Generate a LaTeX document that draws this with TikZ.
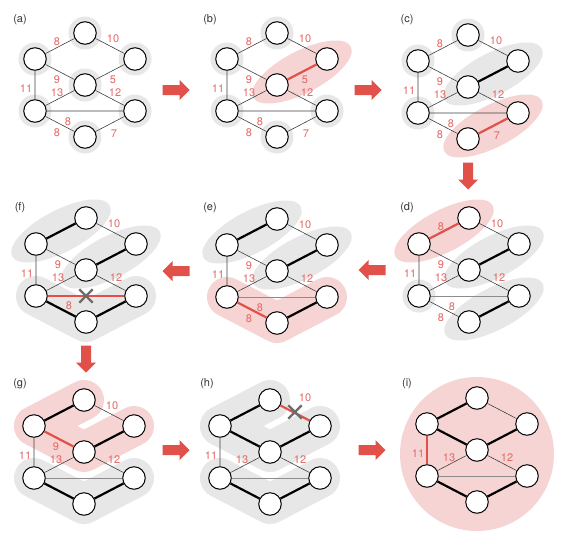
\documentclass[tikz,border=0pt]{standalone}
\usepackage{fontspec}
\setmainfont{TeX Gyre Heros}
\usetikzlibrary{shapes.misc}

\definecolor{kred}{RGB}{226,80,74}
\definecolor{klab}{RGB}{228,104,100}
\definecolor{kpink}{RGB}{246,212,212}
\definecolor{kgray}{RGB}{231,231,231}
\definecolor{kcross}{RGB}{108,108,108}

\tikzset{
  vtx/.style={circle, draw=black, line width=1pt, fill=white, minimum size=22.5pt, inner sep=0pt},
  halo/.style={fill=kgray},
  thinedge/.style={line width=0.6pt, draw=black!75},
  fadeedge/.style={line width=0.6pt, draw=black!45},
  treeedge/.style={line width=2.2pt, draw=black},
  newedge/.style={line width=2.2pt, draw=kred},
  wlab/.style={text=klab, font=\fontsize{11}{11}\selectfont, inner sep=0pt},
  tag/.style={text=black!80, font=\fontsize{11}{11}\selectfont, inner sep=0pt},
  graybl/.style={draw=kgray, line width=40pt, line cap=round, line join=round},
  pinkbl/.style={draw=kpink, line width=40pt, line cap=round, line join=round},
  xmark/.style={cross out, draw=kcross, line width=2.4pt, minimum size=11pt, inner sep=0pt},
}

% the seven vertices of one panel, top vertex at the scope origin
\newcommand{\kverts}[1]{%
  \node[vtx] (#1T)  at (0,0)    {};
  \node[vtx] (#1UL) at (-50,26) {};
  \node[vtx] (#1UR) at (50,26)  {};
  \node[vtx] (#1M)  at (0,52)   {};
  \node[vtx] (#1LL) at (-50,78) {};
  \node[vtx] (#1LR) at (50,78)  {};
  \node[vtx] (#1B)  at (0,104)  {};
}
% red block arrow between two panels
\newcommand{\steparrow}[2]{%
  \fill[kred, shift={(#1)}, rotate=#2] (-13.5,-5) -- (3.5,-5) -- (3.5,-10) -- (13.5,0)
    -- (3.5,10) -- (3.5,5) -- (-13.5,5) -- cycle;}

\begin{document}
\begin{tikzpicture}[x=1pt, y=-1pt]
  \fill[white] (0,0) rectangle (575,535);
  \useasboundingbox (0,0) rectangle (575,535);

  % (a)
  \begin{scope}[shift={(85,33)}]
    \fill[halo] (0,0) circle (16.5pt) (-50,26) circle (16.5pt) (50,26) circle (16.5pt)
      (0,52) circle (16.5pt) (-50,78) circle (16.5pt) (50,78) circle (16.5pt) (0,104) circle (16.5pt);
    \kverts{a}
    \draw[thinedge] (aT) -- (aUL) (aT) -- (aUR) (aUL) -- (aM) (aM) -- (aUR) (aUL) -- (aLL)
      (aLL) -- (aM) (aM) -- (aLR) (aLL) -- (aLR) (aLL) -- (aB) (aB) -- (aLR);
    \node[wlab] (a8t) at (-28,9) {8};
    \node[wlab] (a10) at (28,6) {10};
    \node[wlab] (a9) at (-28,47) {9};
    \node[wlab] (a5) at (28,47) {5};
    \node[wlab] (a11) at (-59,56) {11};
    \node[wlab] (a13) at (-28,60) {13};
    \node[wlab] (a12) at (30,60) {12};
    \node[wlab] (a8m) at (-17,89) {8};
    \node[wlab] (a8b) at (-28,100) {8};
    \node[wlab] (a7) at (29,101) {7};
  \end{scope}

  % (b)
  \begin{scope}[shift={(277,33)}]
    \fill[halo] (0,0) circle (16.5pt) (-50,26) circle (16.5pt)
      (-50,78) circle (16.5pt) (50,78) circle (16.5pt) (0,104) circle (16.5pt);
    \fill[kpink, rotate around={27.5:(25,39)}] (25,39) ellipse [x radius=55pt, y radius=21pt];
    \kverts{b}
    \draw[thinedge] (bT) -- (bUL) (bT) -- (bUR) (bUL) -- (bM) (bUL) -- (bLL)
      (bLL) -- (bM) (bM) -- (bLR) (bLL) -- (bLR) (bLL) -- (bB) (bB) -- (bLR);
    \draw[newedge] (bM) -- (bUR);
    \node[wlab] (b8t) at (-28,9) {8};
    \node[wlab] (b10) at (28,6) {10};
    \node[wlab] (b9) at (-28,47) {9};
    \node[wlab] (b5) at (28,47) {5};
    \node[wlab] (b11) at (-59,56) {11};
    \node[wlab] (b13) at (-28,60) {13};
    \node[wlab] (b12) at (30,60) {12};
    \node[wlab] (b8m) at (-17,89) {8};
    \node[wlab] (b8b) at (-28,100) {8};
    \node[wlab] (b7) at (29,101) {7};
  \end{scope}

  % (c)
  \begin{scope}[shift={(468,35)}]
    \fill[halo] (0,0) circle (16.5pt) (-50,26) circle (16.5pt) (-50,78) circle (16.5pt);
    \fill[kgray, rotate around={27.5:(25,39)}] (25,39) ellipse [x radius=55pt, y radius=21pt];
    \fill[kpink, rotate around={27.5:(25,91)}] (25,91) ellipse [x radius=55pt, y radius=21pt];
    \kverts{c}
    \draw[thinedge] (cT) -- (cUL) (cT) -- (cUR) (cUL) -- (cM) (cUL) -- (cLL)
      (cLL) -- (cM) (cM) -- (cLR) (cLL) -- (cLR) (cLL) -- (cB);
    \draw[treeedge] (cM) -- (cUR);
    \draw[newedge] (cB) -- (cLR);
    \node[wlab] (c8t) at (-28,9) {8};
    \node[wlab] (c10) at (28,6) {10};
    \node[wlab] (c9) at (-28,47) {9};
    \node[wlab] (c11) at (-59,56) {11};
    \node[wlab] (c13) at (-28,60) {13};
    \node[wlab] (c12) at (30,60) {12};
    \node[wlab] (c8m) at (-17,89) {8};
    \node[wlab] (c8b) at (-28,100) {8};
    \node[wlab] (c7) at (29,101) {7};
  \end{scope}

  % (d)
  \begin{scope}[shift={(469,218)}]
    \fill[halo] (-50,78) circle (16.5pt);
    \fill[kgray, rotate around={27.5:(25,39)}] (25,39) ellipse [x radius=55pt, y radius=21pt];
    \fill[kgray, rotate around={27.5:(25,91)}] (25,91) ellipse [x radius=55pt, y radius=21pt];
    \fill[kpink, rotate around={27.5:(-25,13)}] (-25,13) ellipse [x radius=55pt, y radius=21pt];
    \kverts{d}
    \draw[thinedge] (dT) -- (dUR) (dUL) -- (dM) (dUL) -- (dLL)
      (dLL) -- (dM) (dM) -- (dLR) (dLL) -- (dB);
    \draw[fadeedge] (dLL) -- (dLR);
    \draw[treeedge] (dM) -- (dUR) (dB) -- (dLR);
    \draw[newedge] (dUL) -- (dT);
    \node[wlab] (d8t) at (-28,9) {8};
    \node[wlab] (d10) at (28,6) {10};
    \node[wlab] (d9) at (-28,47) {9};
    \node[wlab] (d11) at (-59,56) {11};
    \node[wlab] (d13) at (-28,60) {13};
    \node[wlab] (d12) at (30,60) {12};
    \node[wlab] (d8m) at (-17,89) {8};
    \node[wlab] (d8b) at (-28,100) {8};
  \end{scope}

  % (e)
  \begin{scope}[shift={(277,219)}]
    \fill[kgray, rotate around={27.5:(-25,13)}] (-25,13) ellipse [x radius=55pt, y radius=21pt];
    \fill[kgray, rotate around={27.5:(25,39)}] (25,39) ellipse [x radius=55pt, y radius=21pt];
    \draw[pinkbl] (-50,78) -- (0,104) -- (50,78);
    \kverts{e}
    \draw[thinedge] (eT) -- (eUR) (eUL) -- (eM) (eUL) -- (eLL)
      (eLL) -- (eM) (eM) -- (eLR);
    \draw[fadeedge] (eLL) -- (eLR);
    \draw[treeedge] (eUL) -- (eT) (eM) -- (eUR) (eB) -- (eLR);
    \draw[newedge] (eLL) -- (eB);
    \node[wlab] (e10) at (28,6) {10};
    \node[wlab] (e9) at (-28,47) {9};
    \node[wlab] (e11) at (-59,56) {11};
    \node[wlab] (e13) at (-28,60) {13};
    \node[wlab] (e12) at (30,60) {12};
    \node[wlab] (e8m) at (-17,89) {8};
    \node[wlab] (e8b) at (-28,100) {8};
  \end{scope}

  % (f)
  \begin{scope}[shift={(86,218)}]
    \fill[kgray, rotate around={27.5:(-25,13)}] (-25,13) ellipse [x radius=55pt, y radius=21pt];
    \fill[kgray, rotate around={27.5:(25,39)}] (25,39) ellipse [x radius=55pt, y radius=21pt];
    \draw[graybl] (-50,78) -- (0,104) -- (50,78);
    \kverts{f}
    \draw[thinedge] (fT) -- (fUR) (fUL) -- (fM) (fUL) -- (fLL)
      (fLL) -- (fM) (fM) -- (fLR);
    \draw[treeedge] (fUL) -- (fT) (fM) -- (fUR) (fB) -- (fLR) (fLL) -- (fB);
    \draw[newedge] (fLL) -- (fLR);
    \node[xmark] (fx) at (0,78) {};
    \node[wlab] (f10) at (28,6) {10};
    \node[wlab] (f9) at (-28,47) {9};
    \node[wlab] (f11) at (-59,56) {11};
    \node[wlab] (f13) at (-28,60) {13};
    \node[wlab] (f12) at (30,60) {12};
    \node[wlab] (f8m) at (-17,88) {8};
  \end{scope}

  % (g)
  \begin{scope}[shift={(84,400)}]
    \draw[pinkbl] (0,0) -- (-50,26) -- (0,52) -- (50,26);
    \draw[graybl] (-50,78) -- (0,104) -- (50,78);
    \kverts{g}
    \draw[thinedge] (gT) -- (gUR) (gUL) -- (gLL) (gLL) -- (gM) (gM) -- (gLR);
    \draw[fadeedge] (gLL) -- (gLR);
    \draw[treeedge] (gUL) -- (gT) (gM) -- (gUR) (gB) -- (gLR) (gLL) -- (gB);
    \draw[newedge] (gUL) -- (gM);
    \node[wlab] (g10) at (28,6) {10};
    \node[wlab] (g9) at (-28,47) {9};
    \node[wlab] (g11) at (-59,56) {11};
    \node[wlab] (g13) at (-28,60) {13};
    \node[wlab] (g12) at (30,60) {12};
  \end{scope}

  % (h)
  \begin{scope}[shift={(270,400)}]
    \draw[graybl] (0,0) -- (-50,26) -- (0,52) -- (50,26);
    \draw[graybl] (-50,78) -- (0,104) -- (50,78);
    \kverts{h}
    \draw[thinedge] (hUL) -- (hLL) (hLL) -- (hM) (hM) -- (hLR);
    \draw[fadeedge] (hLL) -- (hLR);
    \draw[treeedge] (hUL) -- (hT) (hM) -- (hUR) (hB) -- (hLR) (hLL) -- (hB) (hUL) -- (hM);
    \draw[newedge] (hT) -- (hUR);
    \node[xmark] (hx) at (25,12) {};
    \node[wlab] (h10) at (35,-2) {10};
    \node[wlab] (h11) at (-59,56) {11};
    \node[wlab] (h13) at (-28,60) {13};
    \node[wlab] (h12) at (30,60) {12};
  \end{scope}

  % (i)
  \begin{scope}[shift={(477,398)}]
    \fill[kpink] (0,56) circle (77pt);
    \kverts{i}
    \draw[thinedge] (iT) -- (iUR) (iLL) -- (iM) (iM) -- (iLR);
    \draw[fadeedge] (iLL) -- (iLR);
    \draw[treeedge] (iUL) -- (iT) (iM) -- (iUR) (iB) -- (iLR) (iLL) -- (iB) (iUL) -- (iM);
    \draw[newedge] (iUL) -- (iLL);
    \node[wlab] (i11) at (-59,56) {11};
    \node[wlab] (i13) at (-28,60) {13};
    \node[wlab] (i12) at (30,60) {12};
  \end{scope}

  % panel tags
  \node[tag] (tga) at (20,20) {(a)};
  \node[tag] (tgb) at (210,20) {(b)};
  \node[tag] (tgc) at (407,20) {(c)};
  \node[tag] (tgd) at (407,208) {(d)};
  \node[tag] (tge) at (210,208) {(e)};
  \node[tag] (tgf) at (20,208) {(f)};
  \node[tag] (tgg) at (20,384) {(g)};
  \node[tag] (tgh) at (207,384) {(h)};
  \node[tag] (tgi) at (407,384) {(i)};

  % step arrows
  \steparrow{176,90}{0}
  \steparrow{368,90}{0}
  \steparrow{468,176}{-90}
  \steparrow{372,270}{180}
  \steparrow{176,271}{180}
  \steparrow{86,359}{-90}
  \steparrow{176,450}{0}
  \steparrow{372,450}{0}
\end{tikzpicture}
\end{document}
